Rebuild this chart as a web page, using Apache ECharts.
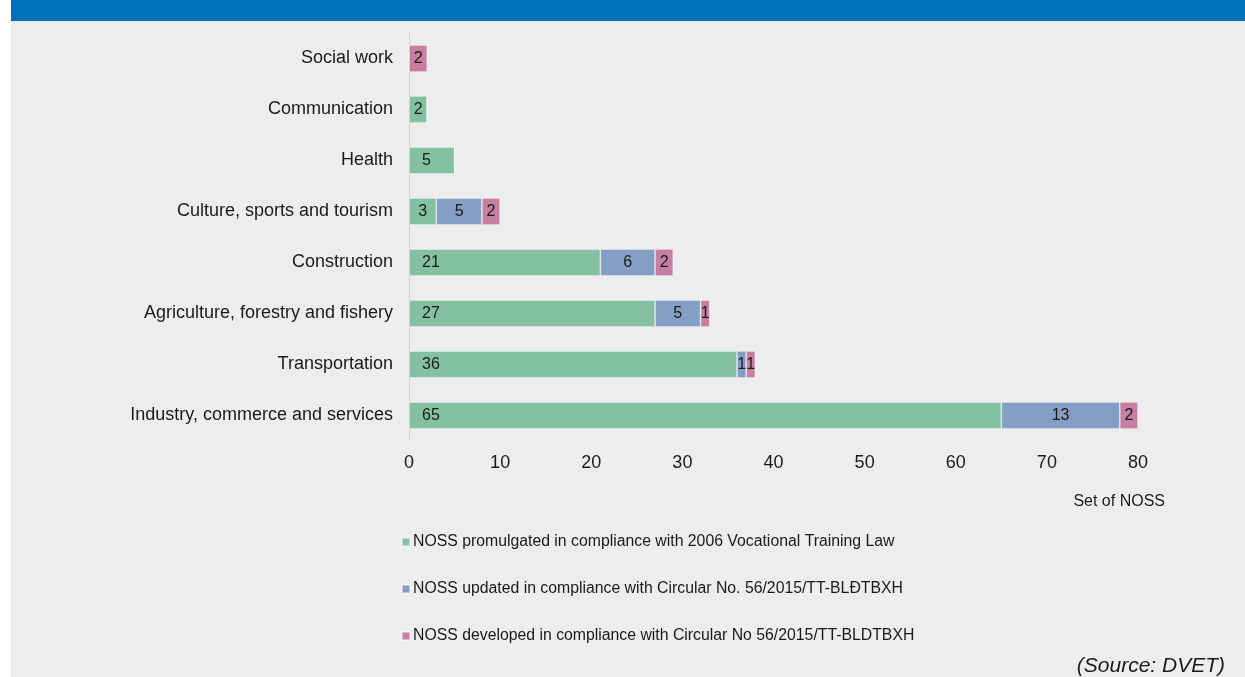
<!DOCTYPE html>
<html>
<head>
<meta charset="utf-8">
<script src="https://cdn.jsdelivr.net/npm/echarts@6/dist/echarts.min.js"></script>
<style>
  html, body { margin: 0; padding: 0; background: #fff; }
  #chart { width: 1245px; height: 677px; }
</style>
</head>
<body>
<div id="chart"></div>
<script>
// sectors, top to bottom
const sectors = [
  'Social work',
  'Communication',
  'Health',
  'Culture, sports and tourism',
  'Construction',
  'Agriculture, forestry and fishery',
  'Transportation',
  'Industry, commerce and services'
]
const promulgated = [0, 2, 5, 3, 21, 27, 36, 65]
const updated = [0, 0, 0, 5, 6, 5, 1, 13]
const developed = [2, 0, 0, 2, 2, 1, 1, 2]

const seriesNames = [
  'NOSS promulgated in compliance with 2006 Vocational Training Law',
  'NOSS updated in compliance with Circular No. 56/2015/TT-BLĐTBXH',
  'NOSS developed in compliance with Circular No 56/2015/TT-BLDTBXH'
]
const colors = ['#84c1a3', '#849fc3', '#c77fa1']

const FONT = '"Liberation Sans", Arial, sans-serif'
const TXT = '#1a1a1a'

const chart = echarts.init(document.getElementById('chart'), null, { renderer: 'canvas' })

const hideZero = (p) => (p.value ? String(p.value) : '')

function barSeries(name, data, color, pos, dist) {
  return {
    name,
    type: 'bar',
    stack: 'total',
    data,
    barWidth: 27,
    itemStyle: { color, borderColor: 'rgba(255,255,255,0.45)', borderWidth: 0.8 },
    label: {
      show: true,
      position: pos,
      distance: dist,
      formatter: hideZero,
      color: TXT,
      fontSize: 16,
      fontFamily: FONT
    },
    emphasis: { disabled: true }
  }
}

// green labels sit near the base; very short bars get them centred
const greenData = promulgated.map((v) =>
  v > 0 && v < 4 ? { value: v, label: { position: 'inside' } } : v
)

chart.setOption({
  backgroundColor: '#ffffff',
  animation: false,
  textStyle: { fontFamily: FONT },
  graphic: [
    { type: 'rect', z: -10, shape: { x: 11, y: 21, width: 1234, height: 656 }, style: { fill: '#ededed' } },
    { type: 'rect', z: -10, shape: { x: 11, y: 0, width: 1234, height: 21 }, style: { fill: '#0070ba' } },
    {
      type: 'text', right: 80, top: 494,
      style: { text: 'Set of NOSS', fill: TXT, font: '16px ' + FONT }
    },
    {
      type: 'text', right: 20, top: 656,
      style: { text: '(Source: DVET)', fill: TXT, font: 'italic 21px ' + FONT }
    }
  ],
  grid: { left: 409, right: 107, top: 33, height: 408, containLabel: false },
  legend: {
    orient: 'vertical',
    left: 401,
    top: 534,
    itemWidth: 8,
    itemHeight: 8,
    itemGap: 31,
    padding: 0,
    icon: 'rect',
    selectedMode: false,
    data: seriesNames,
    textStyle: { color: TXT, fontSize: 15.8, fontFamily: FONT, padding: [0, 0, 0, -2] }
  },
  xAxis: {
    type: 'value',
    min: 0,
    max: 80,
    interval: 10,
    axisLine: { show: false },
    axisTick: { show: false },
    splitLine: { show: false },
    axisLabel: { color: TXT, fontSize: 18, fontFamily: FONT, margin: 13 }
  },
  yAxis: {
    type: 'category',
    inverse: true,
    data: sectors,
    axisLine: { show: true, lineStyle: { color: '#d4d4d4', width: 1 } },
    axisTick: { show: false },
    axisLabel: { color: TXT, fontSize: 18, fontFamily: FONT, margin: 16 }
  },
  series: [
    barSeries(seriesNames[0], greenData, colors[0], 'insideLeft', 13),
    barSeries(seriesNames[1], updated, colors[1], 'inside', 0),
    barSeries(seriesNames[2], developed, colors[2], 'inside', 0)
  ]
})
</script>
</body>
</html>
